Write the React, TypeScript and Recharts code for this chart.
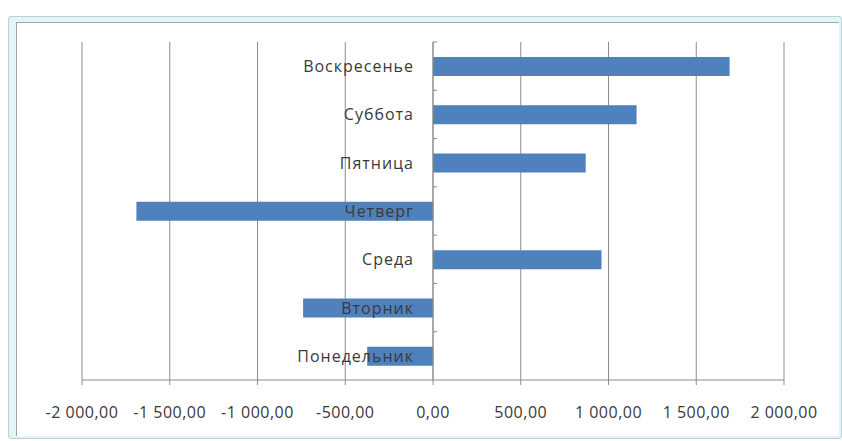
import React from 'react';
import { BarChart, Bar, XAxis, YAxis, CartesianGrid, ReferenceLine } from 'recharts';

const days = ['Понедельник', 'Вторник', 'Среда', 'Четверг', 'Пятница', 'Суббота', 'Воскресенье'];
const amounts = [-375, -740, 960, -1690, 870, 1160, 1690];
const xTicks = [-2000, -1500, -1000, -500, 0, 500, 1000, 1500, 2000];

const data = days.map((name, i) => ({ name, value: amounts[i] }));

const W = 842;
const H = 441;
const AXIS_H = 30;
const M = { top: 42, right: 58, bottom: 61 - AXIS_H, left: 81 };
const zeroX = 433;
const step = (H - 42 - 61) / days.length;

const font = '"Open Sans", "Liberation Sans", sans-serif';

function fmt(v: number) {
  const neg = v < 0;
  const [int, dec] = Math.abs(v).toFixed(2).split('.');
  const grouped = int.replace(/\B(?=(\d{3})+(?!\d))/g, ' ');
  return (neg ? '-' : '') + grouped + ',' + dec;
}

// подписи категорий у нулевой оси
function DayTick(props: any) {
  const { y, payload } = props;
  return (
    <g>
      <line x1={zeroX} x2={zeroX + 4} y1={y - step / 2} y2={y - step / 2} stroke="#8c8c8c" />
      <text x={zeroX - 19} y={y} textAnchor="end" dominantBaseline="central" fontSize={16} letterSpacing={1} fill="#3a3a3a" fontFamily={font}>
        {payload.value}
      </text>
    </g>
  );
}

export default function App() {
  return (
    <div style={{ position: 'absolute', left: 0, top: 0, width: W, height: H, background: '#fff', overflow: 'hidden' }}>
      {/* рамка окна Excel */}
      <div style={{ position: 'absolute', left: 8, top: 16, width: 832, height: 421, background: '#e6f4f6', border: '1px solid #b5d3dc', borderRadius: 3 }} />
      <div style={{ position: 'absolute', left: 16, top: 22, width: 822, height: 413, background: '#fff', borderLeft: '1px solid #9aa7ab', borderTop: '1px solid #9aa7ab' }} />
      <div style={{ position: 'absolute', left: 0, top: 0 }}>
        <BarChart width={W} height={H} data={data} layout="vertical" margin={M}>
          <CartesianGrid horizontal={false} stroke="#8c8c8c" />
          <XAxis
            type="number"
            domain={[-2000, 2000]}
            ticks={xTicks}
            tickFormatter={fmt}
            stroke="#8c8c8c"
            height={AXIS_H}
            tickSize={5}
            tickMargin={22}
            tick={{ fill: '#3a3a3a', fontSize: 16, letterSpacing: 0.5, fontFamily: font }}
            interval={0}
          />
          <YAxis
            type="category"
            dataKey="name"
            reversed
            width={1}
            axisLine={false}
            tickLine={false}
            tick={(p: any) => <DayTick {...p} />}
            interval={0}
          />
          <ReferenceLine x={0} stroke="#8c8c8c" />
          <Bar dataKey="value" fill="#4f81bd" barSize={19} isAnimationActive={false} />
        </BarChart>
      </div>
    </div>
  );
}
